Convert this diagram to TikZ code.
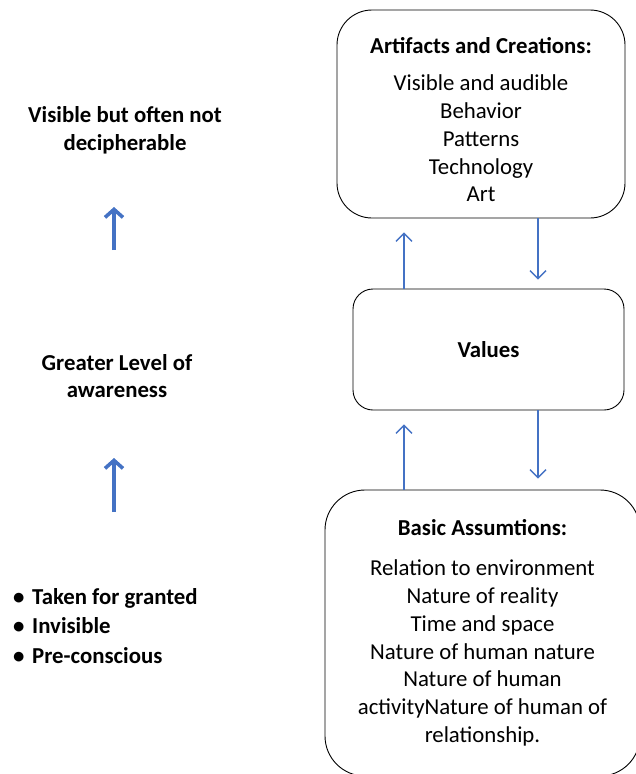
\documentclass[tikz,border=0pt]{standalone}
\usepackage{fontspec}
\setmainfont{Carlito}
\usetikzlibrary{arrows.meta}
\definecolor{flowblue}{RGB}{68,114,196}

\begin{document}
\begin{tikzpicture}[x=1pt, y=-1pt,
	layer/.style={draw=black, line width=0.9pt, align=center, font=\fontsize{22.8}{27.8}\selectfont},
	flow/.style={draw=flowblue, line width=1.4pt, -{Straight Barb[length=8pt,width=16pt]}},
	level/.style={draw=flowblue, line width=3.6pt, -{Straight Barb[length=8pt,width=18pt]}},
	side/.style={align=center, font=\fontsize{22.8}{27.8}\selectfont\bfseries}]
	\useasboundingbox (0,0) rectangle (636,774);
	% the three layers
	\node[layer, rounded corners=35pt,
	minimum width = 288pt,
	minimum height = 208pt] (art) at(481,114){\rule{0pt}{28pt}\textbf{Artifacts and Creations:}\\[9pt]Visible and audible\\Behavior\\Patterns\\Technology\\Art};
	\node[layer, rounded corners=20pt,
	minimum width = 271pt,
	minimum height = 121pt] (val) at(488.5,349.5){\textbf{Values}};
	\node[layer, rounded corners=40pt,
	minimum width = 315pt,
	minimum height = 286pt] (bas) at(482.5,633){\textbf{Basic Assumtions:}\\[12pt]Relation to environment\\Nature of reality\\Time and space\\Nature of human nature\\Nature of human\\activityNature of human of\\relationship.};
	% left column
	\node[side] (vis) at(125,130){Visible but often not\\decipherable};
	\node[side] (aware) at(117,376){Greater Level of\\awareness};
	\node[anchor=west, inner sep=0pt, align=left, font=\fontsize{22.8}{29.5}\selectfont\bfseries] (hidden) at(13,626){\makebox[19pt][l]{\textbullet}Taken for granted\\\makebox[19pt][l]{\textbullet}Invisible\\\makebox[19pt][l]{\textbullet}Pre-conscious};
	\coordinate (up) at(404,0);
	\coordinate (down) at(538,0);
	\coordinate (a1) at(114,250);
	\coordinate (a2) at(114,207);
	\coordinate (b1) at(114,512);
	\coordinate (b2) at(114,458);
	% arrows
	\draw[flow, shorten >=14pt] (val.north -| up) -- (art.south -| up);
	\draw[flow, shorten >=9pt] (art.south -| down) -- (val.north -| down);
	\draw[flow, shorten >=14pt] (bas.north -| up) -- (val.south -| up);
	\draw[flow, shorten >=11pt] (val.south -| down) -- (bas.north -| down);
	\draw[level] (a1) -- (a2);
	\draw[level] (b1) -- (b2);
\end{tikzpicture}
\end{document}
